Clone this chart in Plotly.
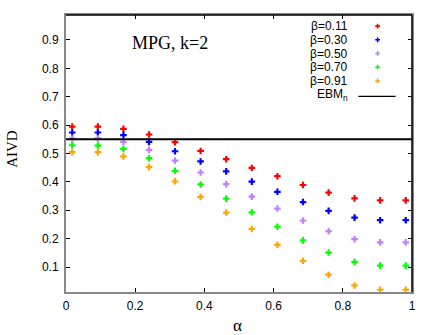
import plotly.graph_objects as go

alpha = [0.018, 0.092, 0.166, 0.240, 0.315, 0.389, 0.463, 0.537, 0.611, 0.685, 0.759, 0.834, 0.908, 0.982]

beta_labels = ["β=0.11", "β=0.30", "β=0.50", "β=0.70", "β=0.91"]
aivd_b011 = [0.595, 0.595, 0.587, 0.567, 0.540, 0.509, 0.480, 0.449, 0.420, 0.389, 0.362, 0.342, 0.335, 0.335]
aivd_b030 = [0.574, 0.574, 0.565, 0.541, 0.508, 0.472, 0.437, 0.401, 0.365, 0.329, 0.298, 0.274, 0.265, 0.265]
aivd_b050 = [0.553, 0.553, 0.541, 0.513, 0.475, 0.433, 0.392, 0.348, 0.306, 0.264, 0.226, 0.198, 0.187, 0.187]
aivd_b070 = [0.529, 0.528, 0.516, 0.484, 0.439, 0.391, 0.341, 0.293, 0.242, 0.194, 0.151, 0.118, 0.105, 0.105]
aivd_b091 = [0.505, 0.505, 0.490, 0.452, 0.402, 0.347, 0.292, 0.234, 0.178, 0.122, 0.073, 0.035, 0.020, 0.020]
series = [aivd_b011, aivd_b030, aivd_b050, aivd_b070, aivd_b091]
colors = ["#ff0000", "#0000ff", "#c080ff", "#00ff00", "#ffa500"]

ebm_value = 0.55
ebm_label = "EBM<sub>n</sub>"

x_ticks = [0, 0.2, 0.4, 0.6, 0.8, 1]
x_tick_labels = ["0", "0.2", "0.4", "0.6", "0.8", "1"]
y_ticks = [0.1, 0.2, 0.3, 0.4, 0.5, 0.6, 0.7, 0.8, 0.9]
y_tick_labels = ["0.1", "0.2", "0.3", "0.4", "0.5", "0.6", "0.7", "0.8", "0.9"]

fig = go.Figure()

for vals, col, lab in zip(series, colors, beta_labels):
    fig.add_trace(go.Scatter(
        x=alpha, y=vals, mode="markers", name=lab,
        marker=dict(symbol="cross", size=5.5, color=col, line=dict(width=0)),
        showlegend=False, cliponaxis=False))

# EBM horizontal line
fig.add_trace(go.Scatter(x=[0, 1], y=[ebm_value, ebm_value], mode="lines",
                         line=dict(color="black", width=2), showlegend=False))

# gnuplot-style key (text left, sample right) on an overlay axis
row_y0 = 0.960
row_step = 0.0495
key_text_x = 0.822
key_mark_x = 0.9006
for i, (lab, col) in enumerate(zip(beta_labels, colors)):
    yy = row_y0 - i * row_step
    fig.add_trace(go.Scatter(x=[key_mark_x], y=[yy], mode="markers", xaxis="x2", yaxis="y2",
                             marker=dict(symbol="cross", size=4, color=col, line=dict(width=0)),
                             showlegend=False, hoverinfo="skip"))
    fig.add_annotation(x=key_text_x, y=yy, xref="paper", yref="paper", text=lab,
                       showarrow=False, xanchor="right", yanchor="middle",
                       font=dict(family="Liberation Sans, Arial", size=12, color="black"))
yy = row_y0 - 5 * row_step - 0.006
fig.add_trace(go.Scatter(x=[0.845, 0.9526], y=[yy, yy], mode="lines", xaxis="x2", yaxis="y2",
                         line=dict(color="black", width=1.2), showlegend=False, hoverinfo="skip"))
fig.add_annotation(x=key_text_x, y=yy + 0.004, xref="paper", yref="paper", text=ebm_label,
                   showarrow=False, xanchor="right", yanchor="middle",
                   font=dict(family="Liberation Sans, Arial", size=12, color="black"))

fig.add_annotation(x=0.3014, y=0.90, xref="paper", yref="paper", text="MPG, k=2",
                   showarrow=False, xanchor="center", yanchor="middle",
                   font=dict(family="Liberation Serif, Times New Roman", size=18, color="black"))
fig.add_annotation(x=-0.158, y=0.518, xref="paper", yref="paper", text="AIVD", textangle=-90,
                   showarrow=False, xanchor="center", yanchor="middle",
                   font=dict(family="Liberation Serif, Times New Roman", size=15, color="black"))
fig.add_annotation(x=0.495, y=-0.1205, xref="paper", yref="paper", text="α",
                   showarrow=False, xanchor="center", yanchor="middle",
                   font=dict(family="Liberation Serif, Times New Roman", size=17, color="black"))

# top and right border in black
fig.add_shape(type="line", xref="paper", yref="paper", x0=0, x1=1, y0=1, y1=1,
              line=dict(color="black", width=1.5), layer="above")
fig.add_shape(type="line", xref="paper", yref="paper", x0=1, x1=1, y0=0, y1=1,
              line=dict(color="black", width=1.5), layer="above")

axis_font = dict(family="Liberation Sans, Arial", size=12, color="black")
fig.update_layout(
    width=436, height=335,
    margin=dict(l=66, r=24, t=15, b=43),
    plot_bgcolor="white", paper_bgcolor="white",
    xaxis=dict(range=[0, 1], tickvals=x_ticks, ticktext=x_tick_labels, ticks="inside", ticklen=4,
               tickcolor="black", showline=True, linecolor="#888888", linewidth=2, mirror="ticks",
               showgrid=False, zeroline=False, tickfont=axis_font, ticklabelstandoff=2),
    yaxis=dict(range=[0.012, 0.988], tickvals=y_ticks, ticktext=y_tick_labels, ticks="inside", ticklen=4,
               tickcolor="black", showline=True, linecolor="#888888", linewidth=2, mirror="ticks",
               showgrid=False, zeroline=False, tickfont=axis_font, ticklabelstandoff=3),
    xaxis2=dict(range=[0, 1], overlaying="x", visible=False),
    yaxis2=dict(range=[0, 1], overlaying="y", visible=False),
    showlegend=False,
)

fig.write_html("out.html", config={"displayModeBar": False},
               post_script="document.body.style.margin='0';")
